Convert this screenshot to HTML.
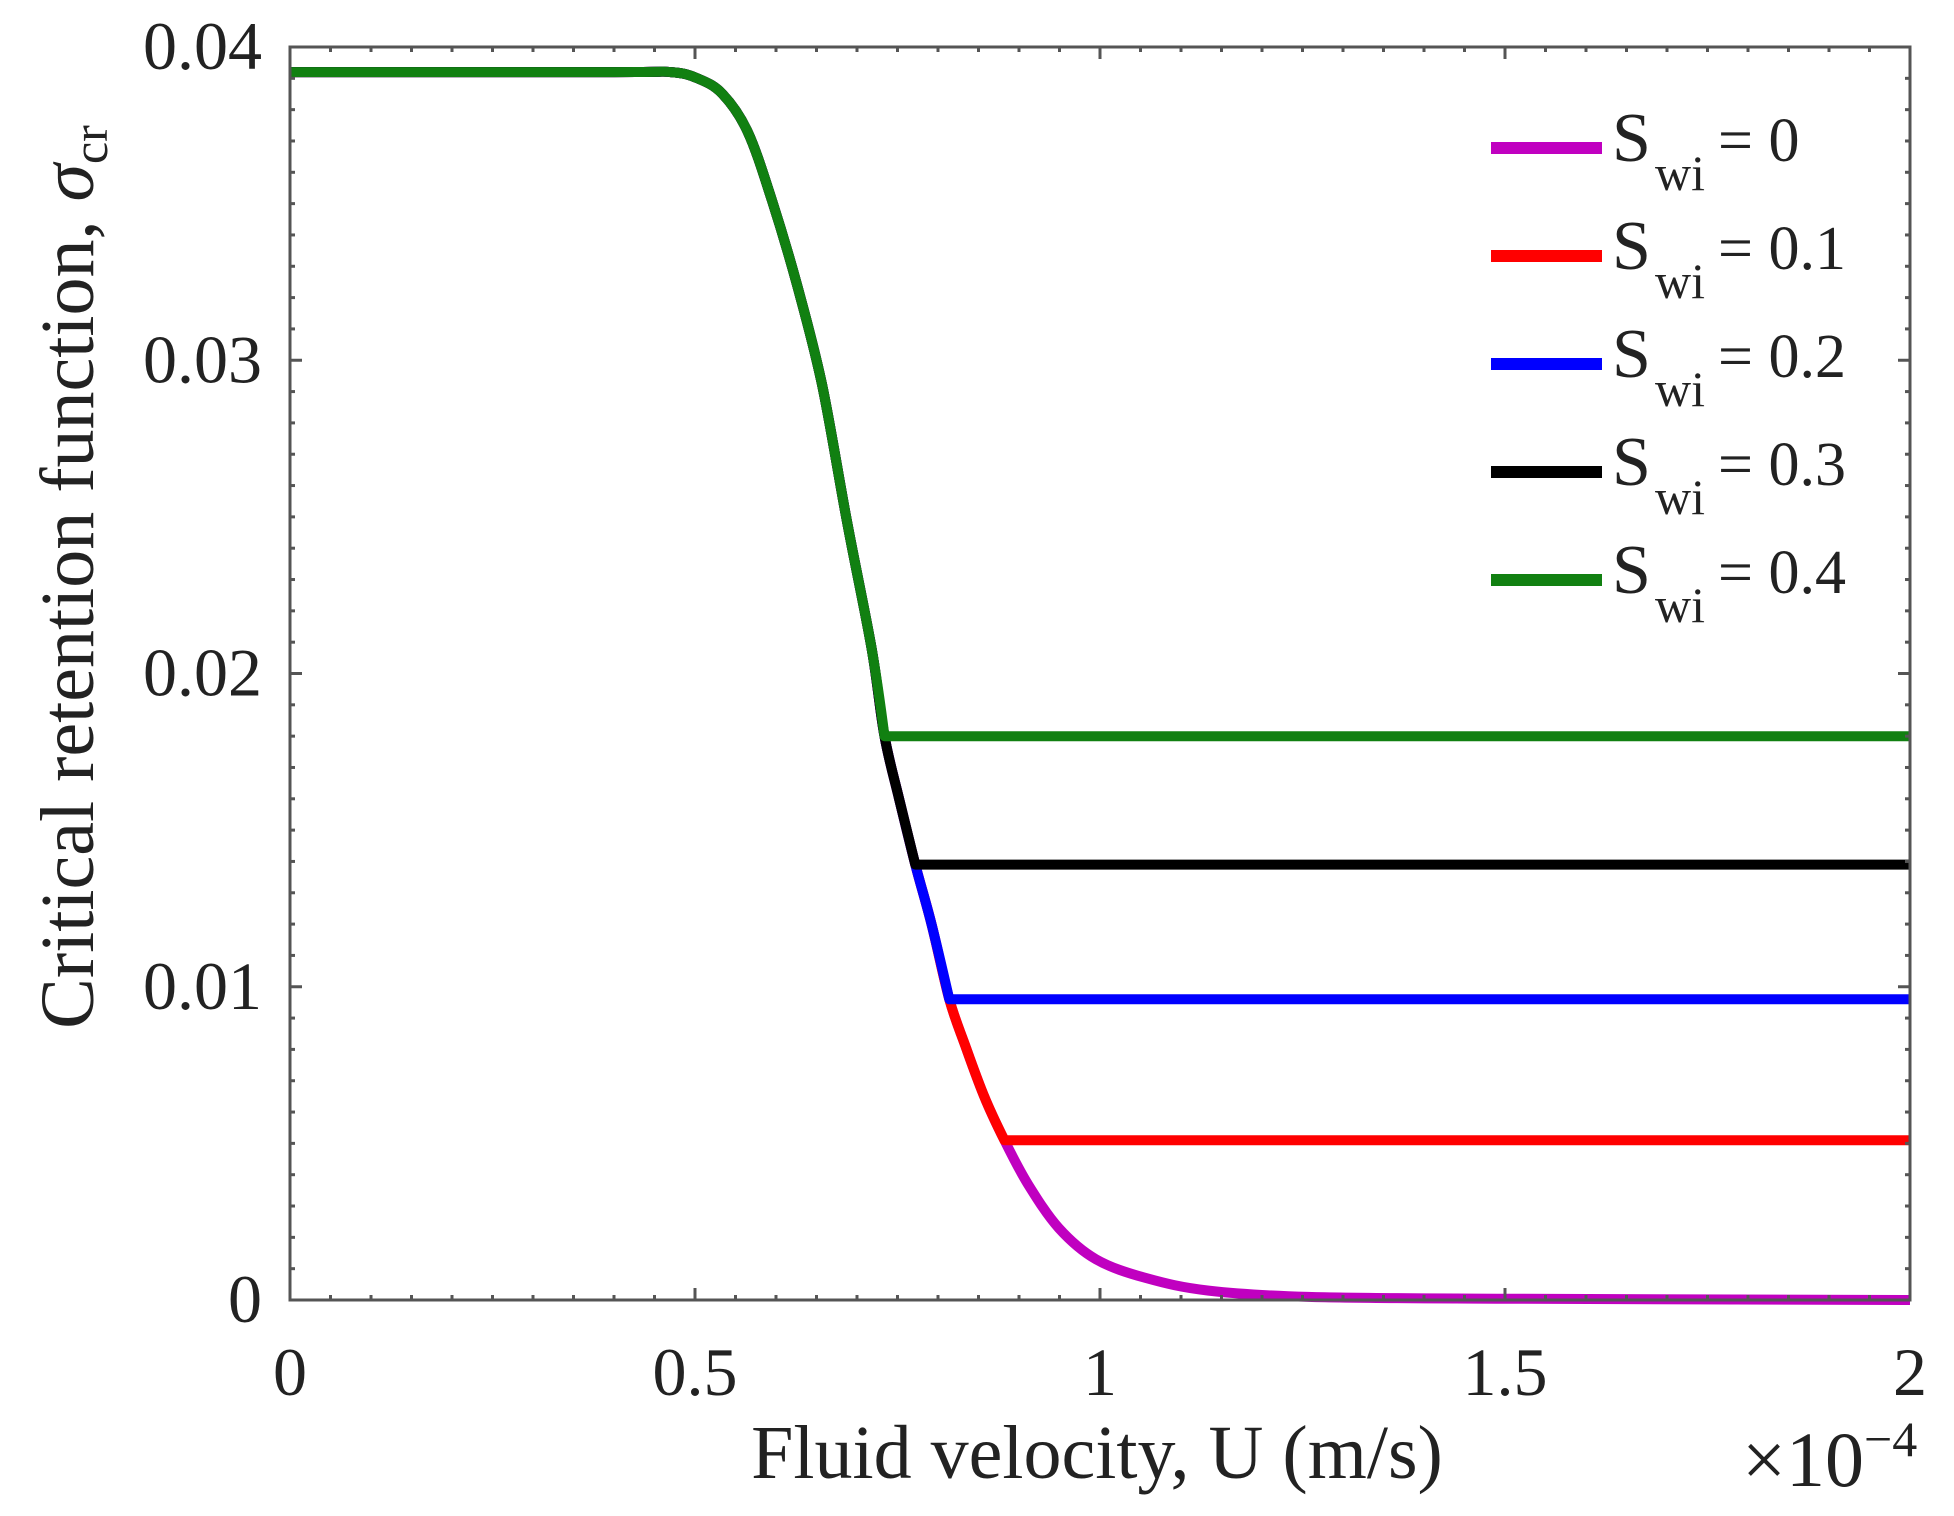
<!DOCTYPE html>
<html><head><meta charset="utf-8"><style>
html,body{margin:0;padding:0;background:#fff;}
svg{display:block;}
text{font-family:"Liberation Serif",serif;fill:#222;}
</style></head><body>
<svg id="chart" width="1954" height="1516" viewBox="0 0 1954 1516" xmlns="http://www.w3.org/2000/svg">
<g id="plot"></g>
<g id="axes"></g>
<g id="legend"></g>
</svg>
<script>
const mainX = [0, 0.4, 0.47, 0.503, 0.534, 0.565, 0.595, 0.626, 0.657, 0.688, 0.718, 0.734, 0.752, 0.772, 0.792, 0.814, 0.834, 0.857, 0.882, 0.911, 0.949, 0.995, 1.057, 1.134, 1.257, 1.49, 2.0];
const mainY = [0.0392, 0.0392, 0.0392, 0.039, 0.0385, 0.0373, 0.0351, 0.0324, 0.0292, 0.0248, 0.0208, 0.018, 0.016, 0.0139, 0.012, 0.0096, 0.0081, 0.0065, 0.0051, 0.0037, 0.0023, 0.0013, 0.0007, 0.0003, 0.0001, 0.00004, 0];
const seriesNames = ["S_wi = 0", "S_wi = 0.1", "S_wi = 0.2", "S_wi = 0.3", "S_wi = 0.4"];
const seriesLabels = ["0", "0.1", "0.2", "0.3", "0.4"];
const seriesFloors = [0, 0.0051, 0.0096, 0.0139, 0.0180];
const seriesColors = ["#c000c0", "#ff0000", "#0000ff", "#000000", "#118011"];
const xTicks = [0, 0.5, 1, 1.5, 2];
const xTickLabels = ["0", "0.5", "1", "1.5", "2"];
const yTicks = [0, 0.01, 0.02, 0.03, 0.04];
const yTickLabels = ["0", "0.01", "0.02", "0.03", "0.04"];

const NS = "http://www.w3.org/2000/svg";
const L = 290, R = 1910, T = 47, B = 1300;
const xMin = 0, xMax = 2, yMin = 0, yMax = 0.04;
function sx(v){ return L + (v - xMin) / (xMax - xMin) * (R - L); }
function sy(v){ return B - (v - yMin) / (yMax - yMin) * (B - T); }
function mk(tag, attrs, parent){
  const e = document.createElementNS(NS, tag);
  for (const k in attrs) e.setAttribute(k, attrs[k]);
  parent.appendChild(e);
  return e;
}
const plot = document.getElementById('plot');
const axes = document.getElementById('axes');
const legend = document.getElementById('legend');

function smoothPath(pts){
  let d = 'M' + pts[0][0].toFixed(1) + ',' + pts[0][1].toFixed(1);
  for (let i = 0; i < pts.length - 1; i++) {
    const p0 = pts[Math.max(0, i - 1)], p1 = pts[i], p2 = pts[i + 1], p3 = pts[Math.min(pts.length - 1, i + 2)];
    const sharp1 = p1.sharp, sharp2 = p2.sharp;
    const c1x = sharp1 ? p1[0] : p1[0] + (p2[0] - p0[0]) / 6;
    const c1y = sharp1 ? p1[1] : p1[1] + (p2[1] - p0[1]) / 6;
    const c2x = sharp2 ? p2[0] : p2[0] - (p3[0] - p1[0]) / 6;
    const c2y = sharp2 ? p2[1] : p2[1] - (p3[1] - p1[1]) / 6;
    d += ' C' + c1x.toFixed(1) + ',' + c1y.toFixed(1) + ' ' + c2x.toFixed(1) + ',' + c2y.toFixed(1) + ' ' + p2[0].toFixed(1) + ',' + p2[1].toFixed(1);
  }
  return d;
}

seriesFloors.forEach((f, i) => {
  const pts = [];
  for (let k = 0; k < mainX.length; k++) {
    const y = Math.max(mainY[k], f);
    const p = [sx(mainX[k]), sy(y)];
    if (f > 0 && mainY[k] <= f + 1e-9 && (k === 0 || mainY[k-1] > f)) p.sharp = true;
    pts.push(p);
  }
  const p = mk('path', {d: smoothPath(pts), fill: 'none', stroke: seriesColors[i], 'stroke-width': 10, 'stroke-linejoin': 'round'}, plot);
  
  
});

const frame = mk('rect', {x: L, y: T, width: R - L, height: B - T, fill: 'none', stroke: '#555', 'stroke-width': 3}, axes);



for (let k = 0; k <= 40; k++) {
  const v = xMin + k * 0.05;
  const len = (k % 10 === 0) ? 12 : 5;
  const x = sx(v);
  const t1 = mk('line', {x1: x, y1: B, x2: x, y2: B - len, stroke: '#555', 'stroke-width': 3}, axes);
  
  
  const t2 = mk('line', {x1: x, y1: T, x2: x, y2: T + len, stroke: '#555', 'stroke-width': 3}, axes);
  
  
}
for (let k = 0; k <= 40; k++) {
  const v = yMin + k * 0.001;
  const len = (k % 10 === 0) ? 12 : 5;
  const y = sy(v);
  const t1 = mk('line', {x1: L, y1: y, x2: L + len, y2: y, stroke: '#555', 'stroke-width': 3}, axes);
  
  
  const t2 = mk('line', {x1: R, y1: y, x2: R - len, y2: y, stroke: '#555', 'stroke-width': 3}, axes);
  
  
}
xTicks.forEach((v, i) => {
  const t = mk('text', {x: sx(v), y: 1395, 'font-size': 68, 'text-anchor': 'middle'}, axes);
  t.textContent = xTickLabels[i];
  
  
});
yTicks.forEach((v, i) => {
  const t = mk('text', {x: 262, y: sy(v) + 22, 'font-size': 68, 'text-anchor': 'end'}, axes);
  t.textContent = yTickLabels[i];
  
  
});

seriesLabels.forEach((lab, i) => {
  const y = 148 + i * 108;
  const g = mk('g', {}, legend);
  
  
  mk('line', {x1: 1491, y1: y, x2: 1602, y2: y, stroke: seriesColors[i], 'stroke-width': 12}, g);
  const s = mk('text', {x: 1612, y: y + 13, 'font-size': 70}, g); s.textContent = 'S';
  const sub = mk('text', {x: 1655, y: y + 42, 'font-size': 50}, g); sub.textContent = 'wi';
  const eq = mk('text', {x: 1718, y: y + 13, 'font-size': 62}, g); eq.textContent = '= ' + lab;
});
</script>
<svg style="position:absolute;left:0;top:0" width="1954" height="1516" viewBox="0 0 1954 1516" xmlns="http://www.w3.org/2000/svg">
<text x="1097" y="1478" font-size="76" text-anchor="middle" style="font-family:'Liberation Serif',serif;fill:#222">Fluid velocity, U (m/s)</text>
<text x="1742" y="1486" font-size="78" style="font-family:'Liberation Serif',serif;fill:#222">×10<tspan font-size="50" dy="-30">−4</tspan></text>
<text transform="translate(93,577) rotate(-90)" font-size="76" text-anchor="middle" style="font-family:'Liberation Serif',serif;fill:#222">Critical retention function, <tspan font-style="italic">σ</tspan><tspan font-size="50" dy="14">cr</tspan></text>
</svg>
</body></html>
